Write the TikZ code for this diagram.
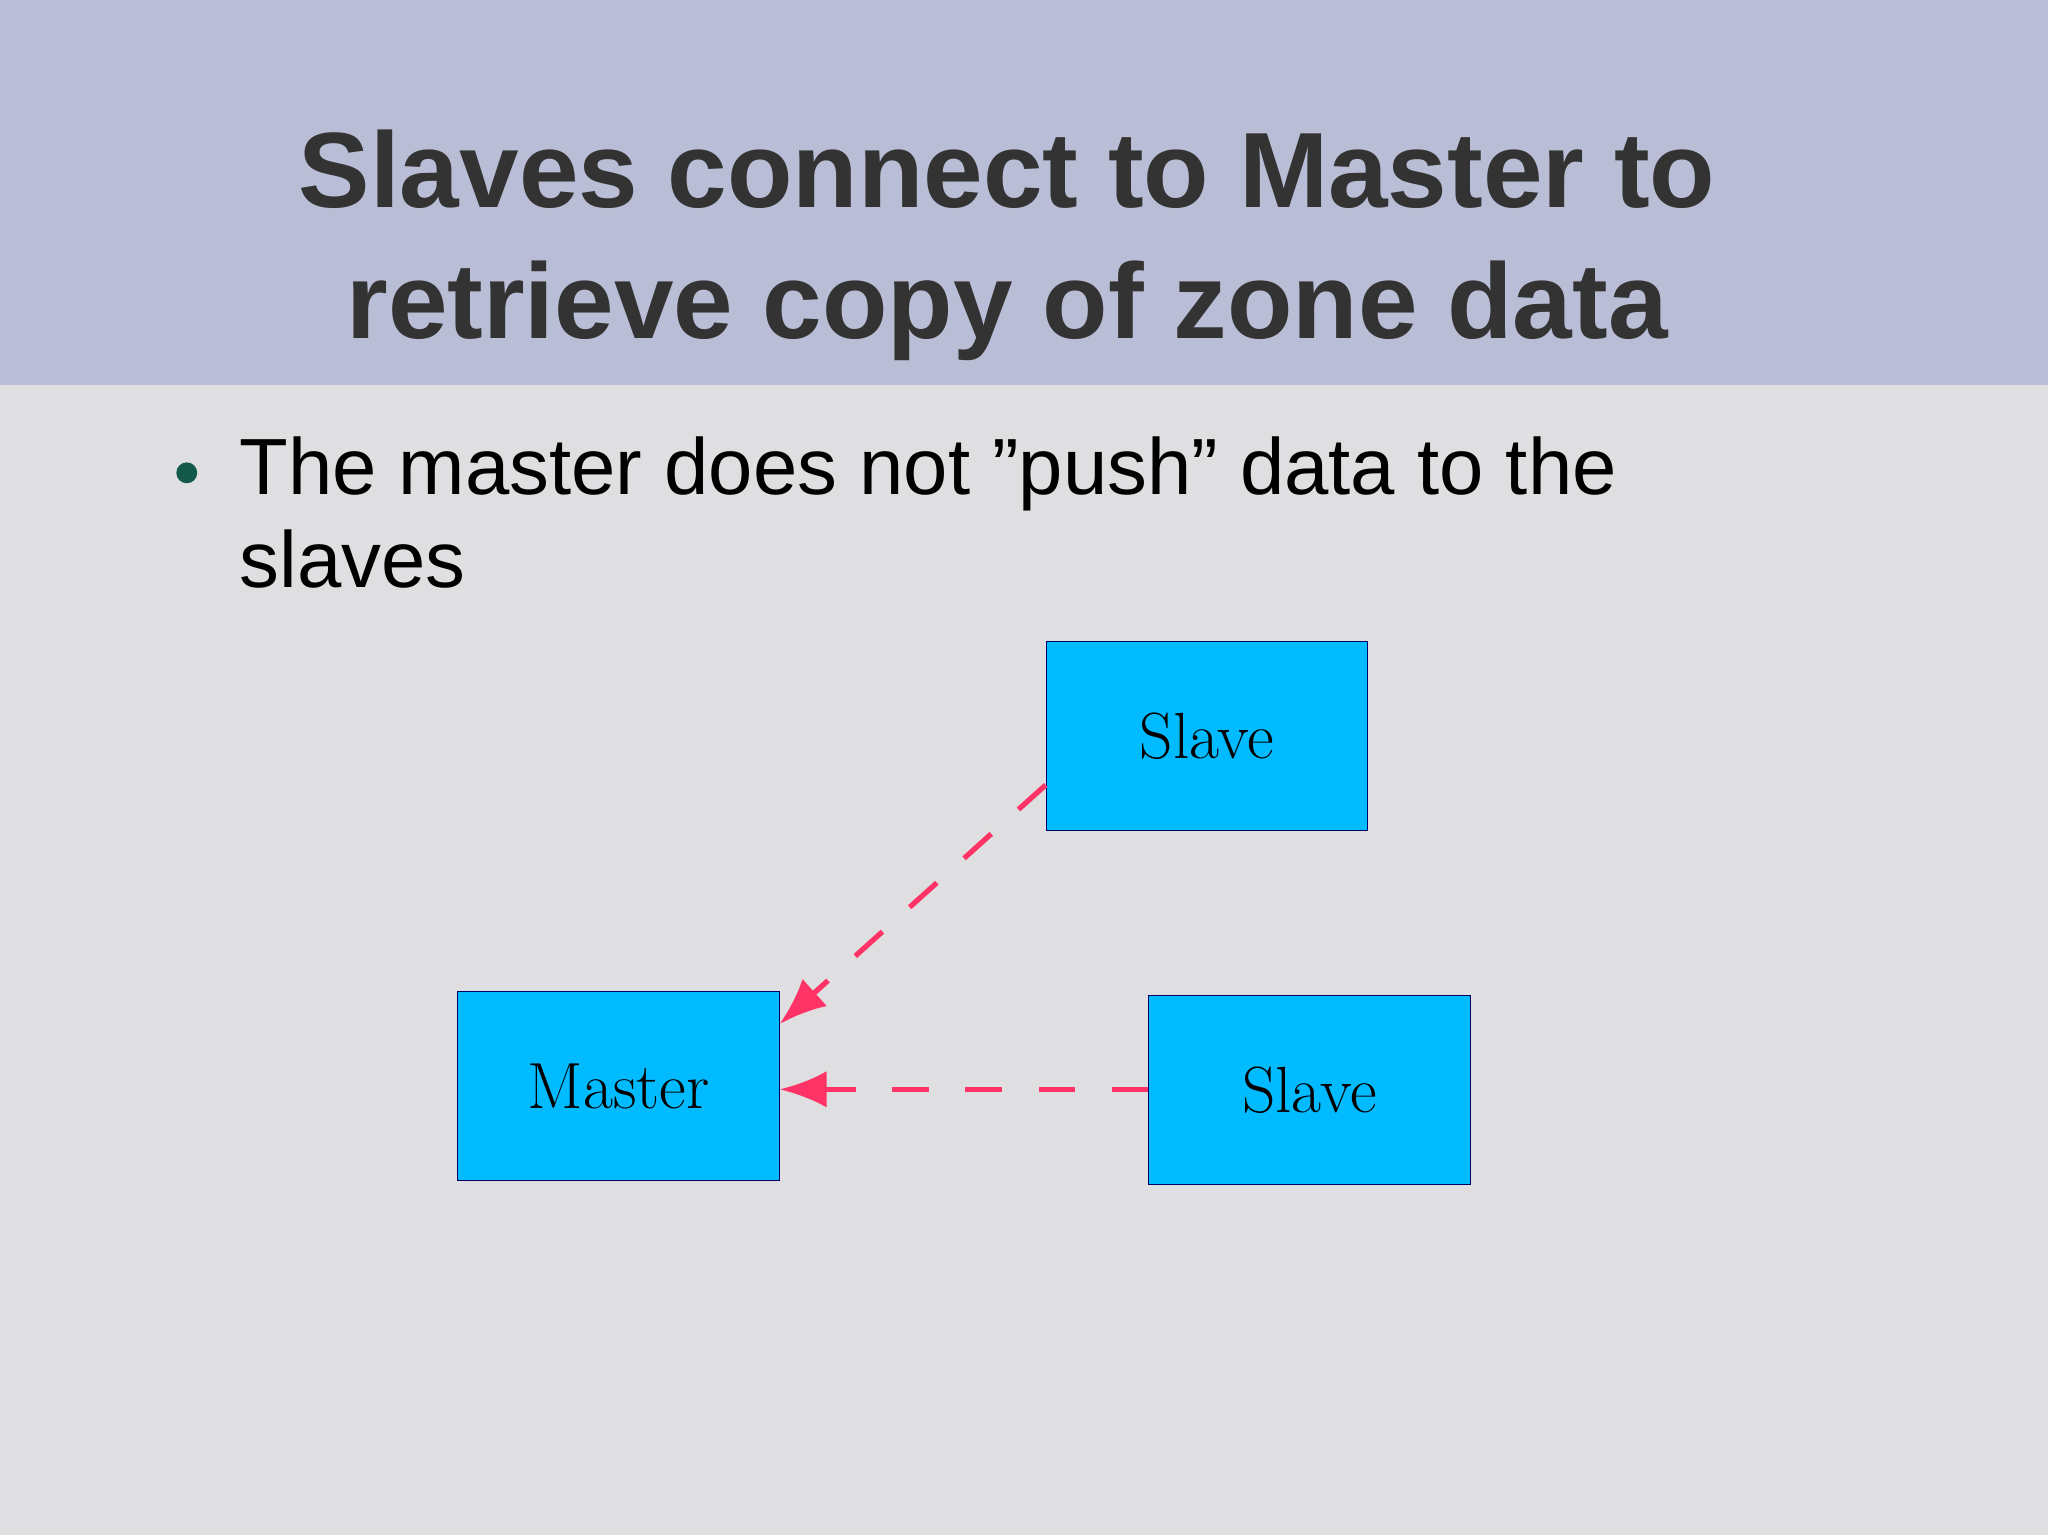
\documentclass[tikz,border=0pt]{standalone}
\usepackage{fontspec}
\setmainfont{Liberation Sans}
\newfontfamily\lmfont{Latin Modern Roman}
\usetikzlibrary{arrows.meta}
\definecolor{hdr}{RGB}{185,190,214}
\definecolor{bodybg}{RGB}{223,223,225}
\definecolor{boxc}{RGB}{0,187,255}
\definecolor{arr}{RGB}{255,51,102}
\definecolor{ttl}{RGB}{51,51,51}
\definecolor{bul}{RGB}{20,90,74}
\tikzset{
 box/.style={draw=blue!40!black,line width=0.4pt,fill=boxc,minimum width=123pt,minimum height=72.5pt,inner sep=0pt,font=\lmfont\fontsize{25}{25}\selectfont,text=black},
 conn/.style={draw=arr,line width=2pt,dash pattern=on 14pt off 14pt,-{Latex[length=18pt,width=14pt]}}
}
\begin{document}
\begin{tikzpicture}[x=0.5pt,y=-0.5pt]
\useasboundingbox (0,0) rectangle (1568,1175);
\fill[bodybg] (0,0) rectangle (1568,1175);
\fill[hdr] (0,0) rectangle (1568,295);
\node[text=ttl,font=\bfseries\fontsize{41}{50}\selectfont,align=center] (title) at (771,188) {Slaves connect to Master to\\retrieve copy of zone data};
\node[circle,fill=bul,inner sep=0pt,minimum size=8pt] (dot) at (143,362) {};
\node[anchor=north west,align=left,font=\fontsize{30.5}{35.5}\selectfont,inner sep=0pt] (bt) at (183,334) {The master does not "push" data to the\\slaves};
\node[box] (s1) at (924,563.5) {Slave};
\node[box] (s2) at (1002.5,834.5) {Slave};
\node[box] (m) at (473.5,831.5) {Master};
\draw[conn] (s1.west |- 0,601) -- (m.north east |- 0,784);
\draw[conn] (s2.west |- 0,834) -- (m.east |- 0,834);
\end{tikzpicture}
\end{document}
